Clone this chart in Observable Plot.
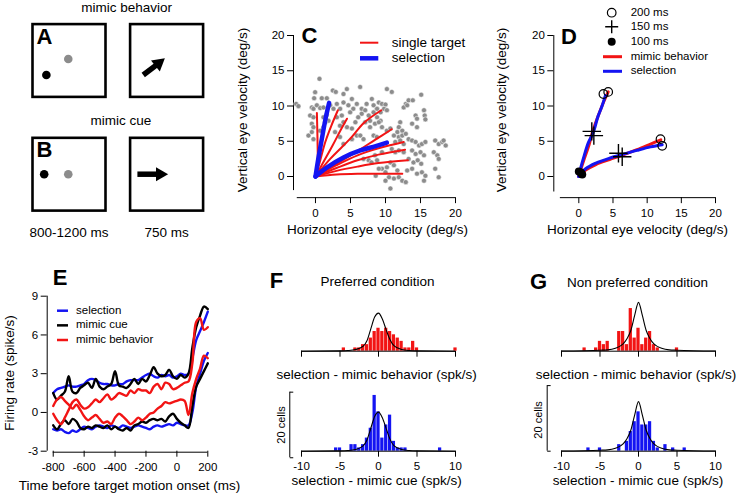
<!DOCTYPE html>
<html><head><meta charset="utf-8">
<script src="https://cdn.jsdelivr.net/npm/d3@7"></script>
<script src="https://cdn.jsdelivr.net/npm/@observablehq/plot@0.6"></script>
<style>
html,body{margin:0;padding:0;background:#fff;}
#fig{position:relative;width:740px;height:493px;overflow:hidden;font-family:"Liberation Sans",Arial,Helvetica,sans-serif;color:#000;background:#fff;}
.t{position:absolute;white-space:nowrap;line-height:1;}
</style></head><body><div id="fig"></div>
<script>
// ================= DATA =================
const RED = "#f21414", BLUE = "#1414f2", GRAY = "#8c8c8c";

// Panels A/B: schematic screens (box-relative positions)
const screenRows = ["A", "B"];
const screenCols = ["800-1200 ms", "750 ms"];
const rowTitles = ["mimic behavior", "mimic cue"];
const targetDots = [
  {row: "A", col: "800-1200 ms", x: 0.19, y: 0.30, kind: "fixation"},
  {row: "A", col: "800-1200 ms", x: 0.49, y: 0.52, kind: "target"},
  {row: "B", col: "800-1200 ms", x: 0.16, y: 0.50, kind: "fixation"},
  {row: "B", col: "800-1200 ms", x: 0.49, y: 0.50, kind: "target"}
];
const motionArrows = [
  {row: "A", col: "750 ms", x1: 0.18, y1: 0.30, x2: 0.39, y2: 0.46, angle: 51},
  {row: "B", col: "750 ms", x1: 0.10, y1: 0.50, x2: 0.41, y2: 0.50, angle: 90}
];

// Panel C: scatter of eye velocity endpoints (deg/s)
const scatterC = [
 [0.57,13.85],[-2.76,10.3],[-2.43,9.98],[-0.05,11.96],[-0.19,11.1],[0.9,11.1],[1.62,11.1],[2.48,12.2],[2.9,12.0],[4.48,12.4],[6.38,12.7],[4.0,11.7],[5.2,11.0],[5.9,10.3],[8.05,11.0],[7.3,10.3],[6.6,9.6],[8.3,10.1],[8.76,9.6],
 [-0.52,9.8],[-0.29,9.6],[0.19,10.1],[0.67,9.7],[1.14,9.8],[2.1,10.1],[2.57,9.6],[3.05,10.3],[3.52,9.6],[4,10.5],[4.7,10.1],[5.4,9.6],[4.95,9.1],[6.6,8.9],[7.1,9.4],[7.6,8.65],[8.3,9.1],
 [-0.76,8.65],[-0.29,8.4],[1.14,8.4],[1.6,8.75],[1.86,7.9],[1.4,7.7],[3.05,8.4],[3.76,8.65],[4,7.7],[3.5,7.2],[5.7,7.7],[6.1,8.4],[5.2,6.8],[4.5,7.0],[7.1,7.7],[7.8,7.9],[8.5,7.5],[7.8,7.0],
 [-1,5.8],[-0.52,6.3],[-0.29,5.3],[-0.52,7.5],[-0.29,7.0],[0.67,6.5],[1.14,7.0],[2.8,6.3],[3.5,5.6],[4,4.6],[5.2,5.3],[5.9,5.8],[6.4,5.8],[6.86,5.3],[8.3,5.8],[8.76,5.6],
 [6.86,2.5],[7.6,2.3],[8,2.0],[8.5,3.0],
 [10.2,12.4],[10.9,12.0],[15.1,11.6],[9.05,10.5],[9.5,10.3],[10,10.2],[12.9,10.3],[13.3,10.8],[13.9,10.8],
 [8.8,9.6],[9.3,9.1],[9.8,9.6],[10.2,9.4],[12.6,9.8],[13.1,10.1],[14.3,8.65],[14.5,8.2],[15.6,8.65],[15.7,8.1],[15.5,9.4],
 [8.8,8.4],[9.3,7.9],[12.1,7.7],[11.9,7.0],[11.7,6.3],[12.4,6.5],[13.8,7.5],[14.5,7.0],[9.05,7.7],[9.5,7.0],[10.2,6.5],[10.7,6.8],
 [11.2,5.8],[11.9,5.6],[12.4,5.8],[12.9,6.05],[11.4,4.9],[12.1,5.1],[12.6,4.6],[13.3,5.3],[13.8,5.1],[14.3,4.9],[14.8,4.4],[15.2,4.6],[15.7,4.9],
 [17.1,5.1],[17.6,4.6],[18.1,4.9],[18.6,4.4],[18.3,5.1],[16.9,3.45],[17.4,3.0],[17.6,2.5],[17.1,1.1],[17.6,-0.1],
 [10.9,3.9],[11.4,3.45],[11.9,3.7],[12.6,3.45],[13.8,3.7],[14.3,3.2],[15,3.45],[15.5,3.0],
 [13.3,2.5],[14,2.0],[14.6,2.3],[15.1,1.8],[10.7,2.0],[11.2,1.6],[11.7,0.85],
 [9.5,1.1],[10,0.6],[10.5,-0.1],[11.2,-0.3],[11.9,-0.1],[12.4,-0.6],[13.1,0.85],[13.8,1.1],[14.5,0.4],[15.2,0.6],[15.7,0.1],[15.5,-0.6],[12.9,-0.8],[10.7,-1.7],
 [8.8,2.3],[9.5,3.45],[10.2,1.3],[8.6,0.1],[9.05,1.1],[10,-0.6]
];
// Panel C: eye velocity trajectories
const singleTargetC = [
 [[0,0],[0.3,2],[0.3,4.5],[0.25,7],[0.2,9.0]],
 [[0,0],[0.6,2],[1.4,4.9],[2.3,7.3],[3.2,9.4]],
 [[0,0],[1.0,1.8],[2.5,4.5],[3.6,6.6],[4.5,8.2]],
 [[0,0],[2.1,2.5],[5,5.4],[6.9,7.6],[9.4,9.4]],
 [[0,0],[3,1.8],[6,3.6],[8.5,5.2],[10.9,6.7]],
 [[0,0],[3,1.6],[6,3.0],[9,4.0],[12.6,4.9]],
 [[0,0],[3,1.2],[6,2.3],[9,3.1],[12.8,3.8]],
 [[0,0],[3,0.8],[6,1.4],[9,1.9],[13.2,2.3]],
 [[0,0],[3,0.3],[6,0.4],[9,0.4],[12.4,0.4]]
];
const selectionC = [
 [[0,0],[0.4,2.5],[0.9,5.3],[1.4,8],[1.95,10.45]],
 [[0,0],[1.5,1.2],[4,2.7],[6.4,3.7],[8.6,4.3],[10.2,4.8]]
];
const legendC = [{label: "single target", color: RED, width: 2}, {label: "selection", color: BLUE, width: 4.5}];

// Panel D: average trajectories
const mimicBehaviorD = [
 [[0,0],[0.3,1],[0.8,2.5],[1.5,4.5],[2.0,6.3],[2.8,8.5],[3.6,10.5],[4.3,12.0]],
 [[0,0],[1,0.9],[2.5,1.7],[4.5,2.4],[6.3,3.0],[8.5,3.8],[10.5,4.6],[12.0,5.2]]
];
const selectionD = [
 [[0,0],[0.3,1.3],[0.8,3],[1.4,4.8],[2.1,6.2],[2.8,8.5],[3.4,10],[3.9,11.5]],
 [[0,0],[1,1.1],[2.5,1.9],[4.5,2.6],[6.3,3.1],[8.5,3.7],[10.5,4.2],[12.2,4.5]]
];
const t200D = [[4.3,12.0],[3.6,11.7],[11.95,5.3],[12.2,4.35]];
const t150D = [[1.9,6.4],[2.2,5.8],[5.8,3.3],[6.35,2.8]];
const t100D = [[0.0,0.7],[0.4,0.4],[0.3,0.55],[0.5,0.3]];
const legendD = ["200 ms", "150 ms", "100 ms", "mimic behavior", "selection"];

// Panel E: firing rates (spike/s) vs time (ms)
const timeE = [-800,-775,-750,-725,-700,-675,-650,-625,-600,-575,-550,-525,-500,-475,-450,-425,-400,-375,-350,-325,-300,-275,-250,-225,-200,-175,-150,-125,-100,-75,-50,-25,0,25,50,75,100,125,150,175,200];
const selectionPrefE = [1.5,1.8,1.9,2.0,2.1,2.0,2.0,2.1,2.2,2.5,2.6,2.5,2.3,2.2,2.2,2.1,2.1,2.2,2.2,2.4,2.5,2.5,2.5,2.7,2.9,3.0,2.8,2.7,2.9,2.8,2.9,2.7,2.8,3.0,2.9,3.0,4.2,5.6,6.3,7.0,7.8];
const selectionNonE = [-1.3,-1.4,-1.3,-1.5,-1.6,-1.4,-1.5,-1.3,-1.1,-1.2,-1.3,-1.1,-1.0,-1.1,-1.2,-1.0,-1.1,-1.2,-1.0,-1.1,-1.2,-1.1,-1.0,-1.1,-1.2,-1.3,-1.1,-1.0,-1.1,-1.0,-0.9,-1.0,-0.8,-0.9,-1.0,-1.0,0.0,2.0,3.0,4.0,4.6];
const cuePrefE = [1.5,1.0,1.3,1.6,2.8,1.6,1.5,1.9,2.1,2.3,1.9,2.6,2.0,1.8,2.0,2.2,3.2,2.1,2.0,1.9,2.2,2.6,2.2,2.6,2.4,2.9,3.5,3.0,2.8,2.9,3.3,2.8,2.6,2.9,2.7,3.0,5.0,6.6,7.5,8.2,8.0];
const cueNonE = [-1.0,-1.3,-0.9,-0.6,-0.9,-0.5,-0.7,-1.2,-1.3,-1.1,-1.2,-1.0,-1.1,-1.2,-1.0,-1.3,-1.1,-1.3,-1.4,-1.2,-1.4,-1.0,-0.9,-0.7,-0.8,-0.6,-0.5,-0.6,-0.5,-0.7,-0.3,-0.1,-0.5,-0.8,-1.0,-1.2,0.5,2.0,2.6,3.2,3.8];
const behaviorPrefE = [-0.1,-0.6,-0.9,-0.4,0.2,0.8,1.0,0.6,0.3,0.4,0.7,1.0,0.8,1.1,1.4,1.0,1.2,1.5,1.4,1.3,1.7,1.5,1.8,1.7,1.7,1.5,2.0,2.2,1.8,2.3,2.2,1.8,1.9,2.1,2.3,2.4,3.8,7.0,7.3,6.4,6.6];
const behaviorNonE = [0.5,1.0,1.2,0.9,0.6,0.3,0.6,0.2,-0.3,-0.6,-0.4,-0.2,-0.5,-0.8,-0.7,-0.9,-0.4,-0.1,-0.3,-0.6,-0.9,-0.7,-0.4,-0.6,-0.4,-0.1,0.0,0.3,0.5,0.8,0.7,0.8,0.9,1.0,0.9,-0.2,1.5,2.6,3.4,4.4,4.2];
const legendE = [{label: "selection", color: BLUE}, {label: "mimic cue", color: "#000"}, {label: "mimic behavior", color: RED}];

// Panels F/G: histograms (bin centre spk/s : number of cells)
const binCentersFTop = [-4.5,-3,-2.5,-2,-1.5,-1,-0.5,0,0.5,1,1.5,2,2.5,3,3.5,4,4.5,5,10];
const countsFTop     = [1,1,1,2,2,4,6,7,6,7,6,5,4,3,1,1,3,1,1];
const binCentersFBot = [-5.5,-5,-3.5,-3,-2.5,-2,-1.5,-1,-0.5,0,0.5,1,1.5,2,2.5,3,3.5,8];
const countsFBot     = [1,1,2,2,1,2,4,7,17,12,4,8,11,3,1,1,1,1];
const binCentersGTop = [-7,-5.5,-5,-4.5,-4,-2.5,-2,-1.5,-1,-0.5,0,0.5,1,1.5,2,2.5,5];
const countsGTop     = [1,1,3,2,3,6,6,2,13,4,7,2,4,6,2,1,1];
const binCentersGBot = [-6.5,-5,-2.5,-1.5,-1,-0.5,0,0.5,1,1.5,2,2.5,3.5,4.5,6];
const countsGBot     = [1,1,2,3,6,9,12,8,8,9,3,1,2,1,1];
// fitted curves (x spk/s, y cells)
const fitX   = [-10,-5,-4,-3,-2,-1.5,-1,-0.5,0,0.5,1,1.5,2,3,4,5,10];
const fitFTop = [0,0.1,0.2,0.5,1.5,3.2,6.8,10.4,11.6,9.8,6.5,3.5,1.7,0.5,0.2,0.1,0];
const fitFBot = [0,0.1,0.2,0.5,1.6,3.4,7.0,10.6,11.9,10.2,6.9,3.6,1.7,0.5,0.2,0.1,0];
const fitGTop = [0.05,0.3,0.4,0.9,2.2,3.8,6.3,10.9,14.9,10.9,6.3,3.8,2.2,0.9,0.4,0.3,0.05];
const fitGBot = [0.05,0.3,0.4,0.9,2.2,3.8,6.4,11.0,15.1,11.0,6.4,3.8,2.2,0.9,0.4,0.3,0.05];
const histTicks = [-10,-5,0,5,10];

// ================= DRAWING =================
const FONT = '"Liberation Sans", Arial, Helvetica, sans-serif';
const fig = document.getElementById("fig");
function place(el, left, top) {
  el.style.position = "absolute"; el.style.left = left + "px"; el.style.top = top + "px";
  el.style.background = "none"; el.style.overflow = "visible"; el.style.maxWidth = "none";
  fig.appendChild(el); return el;
}
function txt(s, x, y, {size = 13.5, anchor = "middle", rotate = 0, weight = "normal"} = {}) {
  const d = document.createElement("div");
  d.className = "t"; d.textContent = s;
  d.style.fontSize = size + "px"; d.style.fontWeight = weight;
  d.style.left = x + "px"; d.style.top = y + "px";
  const tx = anchor === "middle" ? "-50%" : anchor === "end" ? "-100%" : "0";
  d.style.transform = `translate(${tx},-50%) rotate(${rotate}deg)`;
  fig.appendChild(d);
}
const baseStyle = (fs) => ({fontFamily: FONT, fontSize: fs + "px", background: "none", overflow: "visible", color: "#000"});
const toPts = (lines) => lines.flatMap((l, i) => l.map(([x, y]) => ({x, y, id: i})));

// ---- A/B schematic
place(Plot.plot({
  width: 230, height: 245,
  marginLeft: 32, marginRight: 27.4, marginTop: 23.6, marginBottom: 34.9,
  style: baseStyle(13.5),
  fx: {domain: screenCols, paddingInner: 0.252, paddingOuter: 0, round: false, axis: "bottom", tickSize: 0, tickPadding: 17, label: null},
  fy: {domain: screenRows, paddingInner: 0.36, paddingOuter: 0, round: false, axis: null},
  x: {domain: [0, 1], axis: null}, y: {domain: [0, 1], axis: null},
  marks: [
    Plot.frame({stroke: "#000", strokeWidth: 2.6}),
    Plot.dot(targetDots, {fx: "col", fy: "row", x: "x", y: "y", r: 4.3, fill: d => d.kind === "fixation" ? "#000" : GRAY}),
    Plot.link(motionArrows, {fx: "col", fy: "row", x1: "x1", y1: "y1", x2: "x2", y2: "y2", stroke: "#000", strokeWidth: 5.5}),
    Plot.dot(motionArrows, {fx: "col", fy: "row", x: "x2", y: "y2", symbol: "triangle", r: 5.2, fill: "#000", rotate: "angle"}),
    Plot.text(screenRows, {fy: d => d, fx: () => screenCols[0], text: d => d, frameAnchor: "top-left", lineAnchor: "top", dx: 4, dy: 4, fontSize: 22, fontWeight: "bold"})
  ]
}), 0, 0);
txt(rowTitles[0], 126.7, 8, {size: 13.5});
txt(rowTitles[1], 121, 121, {size: 13.5});

// ---- C
place(Plot.plot({
  width: 250, height: 245,
  marginLeft: 63, marginRight: 25, marginTop: 35, marginBottom: 47.85,
  style: baseStyle(11.5),
  x: {domain: [-3.14, 20], ticks: [0, 5, 10, 15, 20], tickSize: 6, tickPadding: 5, label: null},
  y: {domain: [-3, 20], ticks: [0, 5, 10, 15, 20], tickSize: 6, tickPadding: 3, label: null},
  marks: [
    Plot.ruleX([-3.14], {y1: -2, y2: 20}),
    Plot.ruleY([-3], {x1: -2.6, x2: 20}),
    Plot.dot(scatterC, {x: d => d[0], y: d => d[1], r: 2.5, fill: GRAY, stroke: "#fff", strokeWidth: 0.5}),
    Plot.line(toPts(singleTargetC), {x: "x", y: "y", z: "id", stroke: RED, strokeWidth: 2, curve: "catmull-rom"}),
    Plot.line(toPts(selectionC), {x: "x", y: "y", z: "id", stroke: BLUE, strokeWidth: 4.5, curve: "catmull-rom"})
  ]
}), 230, 0);
txt("C", 309.5, 36, {size: 22, weight: "bold"});
txt("Horizontal eye velocity (deg/s)", 377.5, 230);
txt("Vertical eye velocity (deg/s)", 243, 110, {rotate: -90});

// ---- D
place(Plot.plot({
  width: 260, height: 245,
  marginLeft: 73.3, marginRight: 25, marginTop: 35, marginBottom: 47.85,
  style: baseStyle(11.5),
  x: {domain: [-3.66, 20], ticks: [0, 5, 10, 15, 20], tickSize: 6, tickPadding: 5, label: null},
  y: {domain: [-3, 20], ticks: [0, 5, 10, 15, 20], tickSize: 6, tickPadding: 3, label: null},
  marks: [
    Plot.ruleX([-3.66], {y1: -2.2, y2: 20}),
    Plot.ruleY([-3], {x1: -2.7, x2: 20}),
    Plot.line(toPts(mimicBehaviorD), {x: "x", y: "y", z: "id", stroke: RED, strokeWidth: 3, curve: "catmull-rom"}),
    Plot.line(toPts(selectionD), {x: "x", y: "y", z: "id", stroke: BLUE, strokeWidth: 3, curve: "catmull-rom"}),
    Plot.dot(t100D, {x: d => d[0], y: d => d[1], r: 4, fill: "#000"}),
    Plot.dot(t150D, {x: d => d[0], y: d => d[1], symbol: "plus", r: 6, stroke: "#000", strokeWidth: 1.4}),
    Plot.dot(t200D, {x: d => d[0], y: d => d[1], r: 4.3, stroke: "#000", strokeWidth: 1.2, fill: "none"})
  ]
}), 480, 0);
txt("D", 569, 37, {size: 22, weight: "bold"});
txt("Horizontal eye velocity (deg/s)", 637.5, 230);
txt("Vertical eye velocity (deg/s)", 501.7, 110, {rotate: -90});

// ---- E
const seriesE = [
  {name: "selection", color: BLUE, v: selectionPrefE}, {name: "selection", color: BLUE, v: selectionNonE},
  {name: "mimic cue", color: "#000", v: cuePrefE}, {name: "mimic cue", color: "#000", v: cueNonE},
  {name: "mimic behavior", color: RED, v: behaviorPrefE}, {name: "mimic behavior", color: RED, v: behaviorNonE}
];
const ptsE = seriesE.flatMap((s, i) => s.v.map((v, j) => ({t: timeE[j], v, id: i, color: s.color})));
place(Plot.plot({
  width: 240, height: 243,
  marginLeft: 46.7, marginRight: 32.7, marginTop: 45.7, marginBottom: 42.3,
  style: baseStyle(11.5),
  x: {domain: [-839, 200], ticks: [-800, -600, -400, -200, 0, 200], tickFormat: d => String(d), tickSize: 6, tickPadding: 6, label: null},
  y: {domain: [-3, 9], ticks: [-3, 0, 3, 6, 9], tickFormat: d => String(d), tickSize: 6, tickPadding: 3, label: null},
  marks: [
    Plot.ruleX([-839], {y1: -3, y2: 9}),
    Plot.ruleY([-3], {x1: -800, x2: 200, dy: 1}),
    Plot.line(ptsE, {x: "t", y: "v", z: "id", stroke: "color", strokeWidth: 2.4, curve: "catmull-rom", strokeLinejoin: "round"})
  ]
}), 0, 250);
txt("E", 60, 278, {size: 22, weight: "bold"});
txt("Time before target motion onset (ms)", 129.5, 486);
txt("Firing rate (spike/s)", 9.5, 373, {rotate: -90});

// ---- F/G histograms
function hist(centers, counts, fit, color, left, baseline, labels, bar) {
  const bars = centers.map((x, i) => ({x, n: counts[i]}));
  const curve = fitX.map((x, i) => ({x, y: fit[i]}));
  const marks = [
    Plot.rectY(bars, {x1: d => d.x - 0.25, x2: d => d.x + 0.25, y1: 0, y2: "n", fill: color, insetLeft: 0.3, insetRight: 0.3}),
    Plot.ruleY([0], {x1: -10, x2: 10}),
    Plot.line(curve, {x: "x", y: "y", curve: "monotone-x", strokeWidth: 1.1, stroke: "#000"})
  ];
  if (bar) {
    marks.push(Plot.ruleX([bar.x], {y1: bar.y1, y2: bar.y1 + 20}));
    marks.push(Plot.link([bar.y1, bar.y1 + 20], {x1: bar.x, x2: bar.x + 0.45, y1: d => d, y2: d => d}));
  }
  place(Plot.plot({
    width: 250, height: 80, marginLeft: 61, marginRight: 35, marginTop: 60.7 - 18 * 3.28, marginBottom: 19.3,
    style: baseStyle(11.5),
    x: {domain: [-10, 10], ticks: histTicks, tickSize: 6, tickPadding: 5, tickFormat: labels ? (d => String(d)) : (() => ""), label: null},
    y: {domain: [0, 18], axis: null},
    marks
  }), left, baseline - 60.7);
}
hist(binCentersFTop, countsFTop, fitFTop, RED, 240, 350.7, false, null);
hist(binCentersFBot, countsFBot, fitFBot, BLUE, 240, 450.7, true, {x: -11.52, y1: -2});
hist(binCentersGTop, countsGTop, fitGTop, RED, 500, 350.7, false, null);
hist(binCentersGBot, countsGBot, fitGBot, BLUE, 500, 450.7, true, {x: -11.86, y1: 0});

txt("F", 276.5, 281, {size: 22, weight: "bold"});
txt("Preferred condition", 377.5, 282);
txt("selection - mimic behavior (spk/s)", 376.7, 375);
txt("selection - mimic cue (spk/s)", 376.7, 480.5);
txt("20 cells", 280.7, 425, {size: 11, rotate: -90});
txt("G", 538.5, 282, {size: 22, weight: "bold"});
txt("Non preferred condition", 637.5, 283);
txt("selection - mimic behavior (spk/s)", 636, 375);
txt("selection - mimic cue (spk/s)", 638, 480.5);
txt("20 cells", 538.3, 420, {size: 11, rotate: -90});

// ---- legends (swatches in an overlay svg, labels as text)
const ov = d3.create("svg").attr("width", 740).attr("height", 493)
  .style("position", "absolute").style("left", "0px").style("top", "0px").style("overflow", "visible");
function swLine(x1, x2, y, color, w) { ov.append("line").attr("x1", x1).attr("x2", x2).attr("y1", y).attr("y2", y).attr("stroke", color).attr("stroke-width", w); }
// C legend
legendC.forEach((d, i) => { const y = 42.7 + i * 15.6; swLine(360, 378.3, y, d.color, d.width); txt(d.label, 391.7, y, {anchor: "start"}); });
// D legend
const rowsD = [12.7, 26.7, 41.7, 56.7, 71.3];
ov.append("circle").attr("cx", 611.7).attr("cy", rowsD[0]).attr("r", 4.3).attr("fill", "none").attr("stroke", "#000").attr("stroke-width", 1.2);
ov.append("path").attr("d", `M${605.2},${rowsD[1]}h13M${611.7},${rowsD[1] - 6.5}v13`).attr("stroke", "#000").attr("stroke-width", 1.4);
ov.append("circle").attr("cx", 611.7).attr("cy", rowsD[2]).attr("r", 4).attr("fill", "#000");
swLine(603, 622, rowsD[3], RED, 3); swLine(603, 622, rowsD[4], BLUE, 3);
legendD.forEach((s, i) => txt(s, 630.7, rowsD[i], {size: 11.5, anchor: "start"}));
// E legend
legendE.forEach((d, i) => { const y = 310.7 + i * 14.65; swLine(57, 68, y, d.color, 2.5); txt(d.label, 76, y, {size: 11.5, anchor: "start"}); });
fig.appendChild(ov.node());
</script></body></html>
